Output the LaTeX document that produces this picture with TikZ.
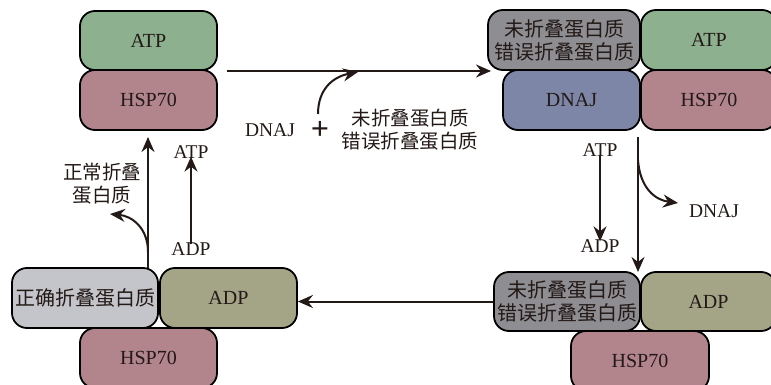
\documentclass[tikz,border=0pt]{standalone}
\usepackage{fontspec}
\setmainfont{Liberation Serif}
\newfontfamily\cjk{Noto Sans CJK SC}
\usetikzlibrary{arrows.meta}
\definecolor{atpgreen}{RGB}{141,176,143}
\definecolor{hsppink}{RGB}{178,133,140}
\definecolor{dnajblue}{RGB}{126,134,168}
\definecolor{protgray}{RGB}{141,141,146}
\definecolor{lightgray}{RGB}{196,197,202}
\definecolor{adpolive}{RGB}{164,164,135}
\definecolor{ink}{RGB}{35,25,22}
\tikzset{
  box/.style={draw=black, line width=1.8pt, rounded corners=15pt, inner sep=0pt,
    text=ink, font=\fontsize{20}{23}\selectfont, align=center},
  lbl/.style={text=ink, font=\fontsize{19.5}{23}\selectfont, align=center, inner sep=1pt},
  arr/.style={draw=ink, line width=2pt, -{Stealth[length=15pt,width=13pt,inset=5pt]}}
}
\begin{document}
\begin{tikzpicture}[x=1pt,y=-1pt]
\useasboundingbox (0,0) rectangle (771,385);
\clip (0,0) rectangle (771,385);
% top-left
\node[box, fill=atpgreen, minimum width=137pt, minimum height=59pt] (tlATP) at (148.5,40.5) {ATP};
\node[box, fill=hsppink, minimum width=137pt, minimum height=60pt] (tlHSP) at (148.5,100) {HSP70};
% top-right
\node[box, fill=atpgreen, minimum width=136pt, minimum height=60pt] (trATP) at (709,40) {ATP};
\node[box, fill=hsppink, minimum width=136pt, minimum height=60pt] (trHSP) at (709,100) {HSP70};
\node[box, fill=dnajblue, minimum width=137pt, minimum height=60pt] (trDNAJ) at (571.5,100) {DNAJ};
\node[box, fill=protgray, minimum width=152pt, minimum height=60pt] (trProt) at (564,40) {\cjk 未折叠蛋白质\\\cjk 错误折叠蛋白质};
% bottom-right
\node[box, fill=hsppink, minimum width=138pt, minimum height=60pt] (brHSP) at (640,361) {HSP70};
\node[box, fill=adpolive, minimum width=135pt, minimum height=59pt] (brADP) at (708.5,301.5) {ADP};
\node[box, fill=protgray, minimum width=146pt, minimum height=59pt] (brProt) at (567,301.5) {\cjk 未折叠蛋白质\\\cjk 错误折叠蛋白质};
% bottom-left
\node[box, fill=hsppink, minimum width=137pt, minimum height=60pt] (blHSP) at (148.5,358) {HSP70};
\node[box, fill=lightgray, minimum width=146pt, minimum height=60pt] (blProt) at (85,298) {\cjk 正确折叠蛋白质};
\node[box, fill=adpolive, minimum width=137pt, minimum height=60pt] (blADP) at (228.5,298) {ADP};
% labels
\node[lbl] (dnaj1) at (270,130) {DNAJ};
\node[lbl, font=\fontsize{32}{32}\selectfont\bfseries] (plus) at (320,130) {+};
\node[lbl] (prot1) at (410,130) {\cjk 未折叠蛋白质\\\cjk 错误折叠蛋白质};
\node[lbl] (atp2) at (600,150) {ATP};
\node[lbl] (adp2) at (600,246) {ADP};
\node[lbl] (dnaj2) at (714,211) {DNAJ};
\node[lbl] (atp3) at (191,152) {ATP};
\node[lbl] (adp3) at (191,249) {ADP};
\node[lbl] (norm) at (102,184) {\cjk 正常折叠\\\cjk 蛋白质};
% connectors
\coordinate (c1s) at (227,71);
\coordinate (c1e) at (491,71);
\draw[arr] (c1s) -- (c1e);
\coordinate (c2s) at (318,114);
\coordinate (c2e) at (358,72);
\draw[arr] (c2s) .. controls (318,90) and (332,77) .. (c2e);
\coordinate (c3s) at (638,137);
\coordinate (c3e) at (638,272);
\draw[arr] (c3s) -- (c3e);
\coordinate (c4s) at (638,160);
\coordinate (c4e) at (678,203);
\draw[arr] (c4s) .. controls (640,188) and (655,200) .. (c4e);
\draw[arr] ([yshift=3pt]atp2.south) -- ([yshift=-3pt]adp2.north);
\draw[arr] (brProt.west) -- (brProt.west -| blADP.east);
\coordinate (c5s) at (148,268);
\coordinate (c5e) at (148,137);
\draw[arr] (c5s) -- (c5e);
\coordinate (c6s) at (148,252);
\coordinate (c6e) at (110,214);
\draw[arr] (c6s) .. controls (148,228) and (132,216) .. (c6e);
\draw[arr] ([yshift=-3pt]adp3.north) -- ([yshift=3pt]atp3.south);
\end{tikzpicture}
\end{document}
